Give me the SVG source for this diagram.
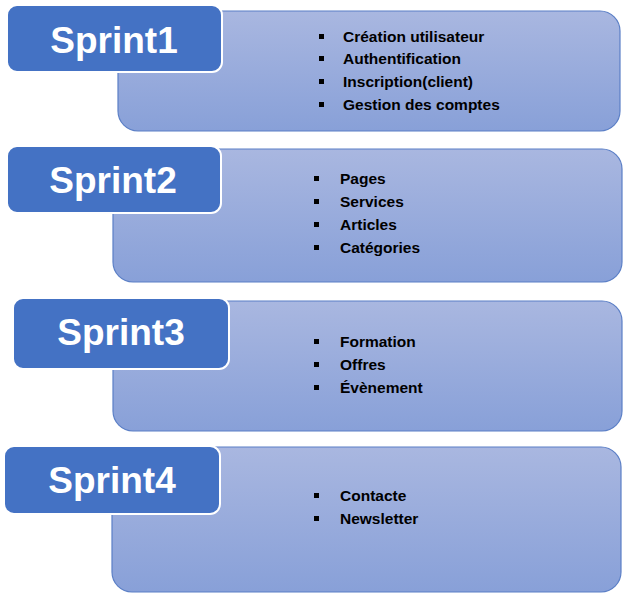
<svg xmlns="http://www.w3.org/2000/svg" width="627" height="604" viewBox="0 0 627 604">
<defs>
<linearGradient id="lg" x1="0" y1="0" x2="0" y2="1">
<stop offset="0" stop-color="#a9b7e0"/>
<stop offset="1" stop-color="#88a0d8"/>
</linearGradient>
</defs>
<style>
.light{fill:url(#lg);stroke:#5b7fc6;stroke-width:1.2}
.dark{fill:#4472c4;stroke:#ffffff;stroke-width:2}
.title{font-family:"Liberation Sans",Arial,sans-serif;font-weight:bold;font-size:37px;fill:#ffffff;text-anchor:middle}
.item{font-family:"Liberation Sans",Arial,sans-serif;font-weight:bold;font-size:15.5px;fill:#000000}
.bul{fill:#000000}
</style>
<rect width="627" height="604" fill="#ffffff"/>
<g id="sprint1">
<rect class="light" x="118" y="11" width="502" height="120" rx="20"/>
<rect class="dark" x="7" y="5" width="215" height="67" rx="10"/>
<text class="title" x="114" y="53">Sprint1</text>
<rect class="bul" x="319" y="34" width="5" height="5"/>
<rect class="bul" x="319" y="56" width="5" height="5"/>
<rect class="bul" x="319" y="79" width="5" height="5"/>
<rect class="bul" x="319" y="102" width="5" height="5"/>
<text class="item" x="343" y="42">Création utilisateur</text>
<text class="item" x="343" y="64">Authentification</text>
<text class="item" x="343" y="87">Inscription(client)</text>
<text class="item" x="343" y="110">Gestion des comptes</text>
</g>
<g id="sprint2">
<rect class="light" x="113" y="149" width="509" height="133" rx="20"/>
<rect class="dark" x="7" y="146" width="214" height="67" rx="10"/>
<text class="title" x="113" y="193">Sprint2</text>
<rect class="bul" x="314" y="176" width="5" height="5"/>
<rect class="bul" x="314" y="199" width="5" height="5"/>
<rect class="bul" x="314" y="222" width="5" height="5"/>
<rect class="bul" x="314" y="245" width="5" height="5"/>
<text class="item" x="340" y="184">Pages</text>
<text class="item" x="340" y="207">Services</text>
<text class="item" x="340" y="230">Articles</text>
<text class="item" x="340" y="253">Catégories</text>
</g>
<g id="sprint3">
<rect class="light" x="113" y="301" width="509" height="130" rx="20"/>
<rect class="dark" x="13" y="298" width="216" height="71" rx="10"/>
<text class="title" x="121" y="345">Sprint3</text>
<rect class="bul" x="314" y="339" width="5" height="5"/>
<rect class="bul" x="314" y="362" width="5" height="5"/>
<rect class="bul" x="314" y="385" width="5" height="5"/>
<text class="item" x="340" y="347">Formation</text>
<text class="item" x="340" y="370">Offres</text>
<text class="item" x="340" y="393">Évènement</text>
</g>
<g id="sprint4">
<rect class="light" x="112" y="447" width="509" height="145" rx="20"/>
<rect class="dark" x="4" y="446" width="216" height="68" rx="10"/>
<text class="title" x="112" y="493">Sprint4</text>
<rect class="bul" x="314" y="493" width="5" height="5"/>
<rect class="bul" x="314" y="516" width="5" height="5"/>
<text class="item" x="340" y="501">Contacte</text>
<text class="item" x="340" y="524">Newsletter</text>
</g>
<g id="connectors"/>
</svg>
